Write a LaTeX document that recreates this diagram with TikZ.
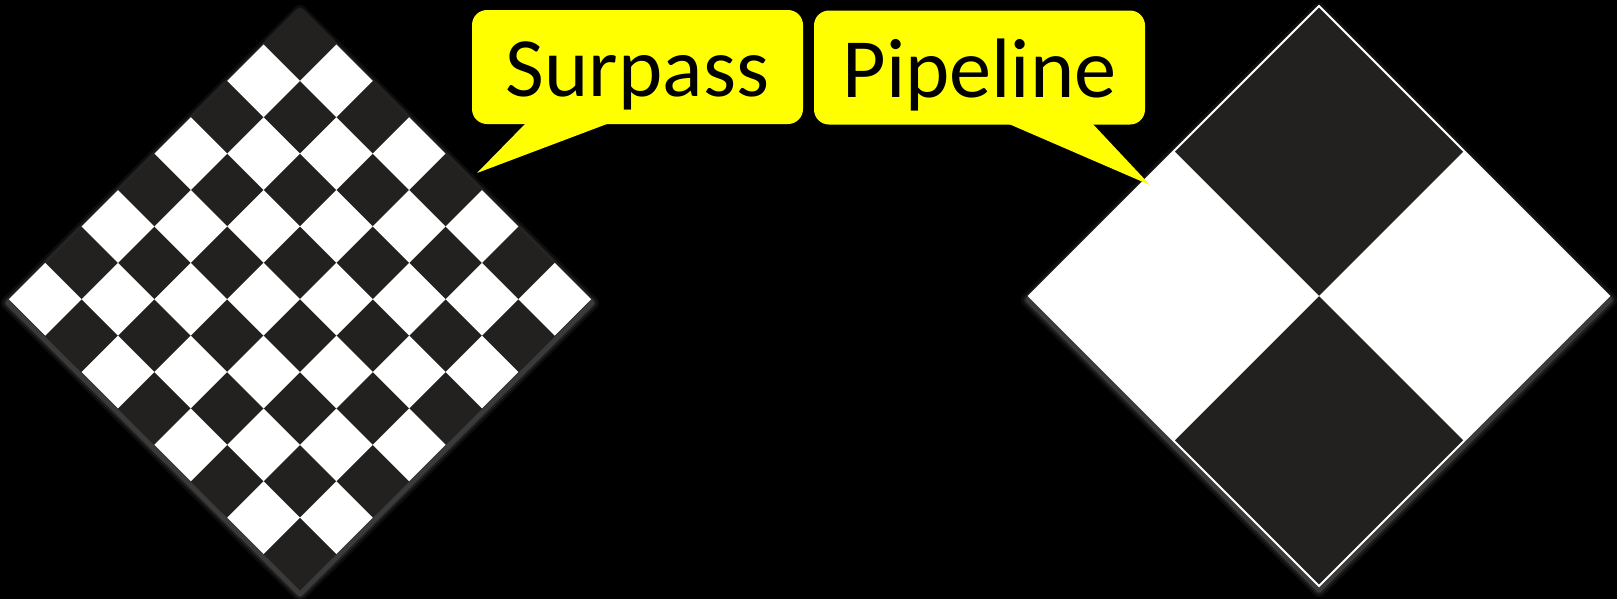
\documentclass[tikz,border=0pt]{standalone}
\usepackage{fontspec}
\setsansfont{Carlito}
\usetikzlibrary{calc}
\definecolor{tiledark}{HTML}{222120}
\definecolor{calloutyellow}{HTML}{FFFF00}

\begin{document}
\begin{tikzpicture}[x=0.2mm, y=-0.2mm]
        \tikzstyle{cellw} = [fill=white]
        \tikzstyle{board} = [fill=tiledark]
        \tikzstyle{glow} = [white, line join=round]
        \tikzstyle{callout} = [rectangle, rounded corners=3mm, fill=calloutyellow, inner sep=0pt, minimum width=66.2mm, minimum height=22.8mm, text height=34pt, text depth=0pt, font=\sffamily\fontsize{48}{56}\selectfont]
        \useasboundingbox (0,0) rectangle (1617,599);
        \fill[black] (0,0) rectangle (1617,599);
        % soft glow under the boards
        \foreach \w/\o in {2.8mm/0.05, 1.8mm/0.08, 1mm/0.12} {
            \draw[glow, line width=\w, opacity=\o] (300,12) -- (592,303) -- (300,594) -- (8,303) -- cycle;
            \draw[glow, line width=\w, opacity=\o] (1319,10) -- (1610,300) -- (1319,590) -- (1028,300) -- cycle;
        }
        % left board, 8x8
        \fill[board] (300,8) -- (591.2,299.2) -- (300,590.4) -- (8.8,299.2) -- cycle;
        \foreach \i in {0,...,7}
            \foreach \j in {0,...,7} {
                \ifodd\numexpr\i+\j\relax
                    \fill[cellw] ({300+36.4*(\i-\j)},{8+36.4*(\i+\j)}) -- ++(36.4,36.4) -- ++(-36.4,36.4) -- ++(-36.4,-36.4) -- cycle;
                \fi
            }
        % right board, 2x2
        \fill[board] (1319,6) -- (1609,296) -- (1319,586) -- (1029,296) -- cycle;
        \foreach \i/\j in {0/1, 1/0}
            \fill[cellw] ({1319+145*(\i-\j)},{6+145*(\i+\j)}) -- ++(145,145) -- ++(-145,145) -- ++(-145,-145) -- cycle;
        \draw[white, line width=0.4mm, line join=miter] (1319,6) -- (1609,296) -- (1319,586) -- (1029,296) -- cycle;
        % callouts
        \node[callout] (surpass) at (637.5,67) {Surpass};
        \node[callout] (pipeline) at (979.5,67.5) {Pipeline};
        \coordinate (surpassTip) at (477,173);
        \coordinate (pipelineTip) at (1150,185);
        \fill[calloutyellow] ($(surpass.south west)+(54,-1)$) -- (surpassTip) -- ($(surpass.south west)+(137,-1)$) -- cycle;
        \fill[calloutyellow] ($(pipeline.south west)+(195,-1)$) -- (pipelineTip) -- ($(pipeline.south west)+(279,-1)$) -- cycle;
\end{tikzpicture}
\end{document}
